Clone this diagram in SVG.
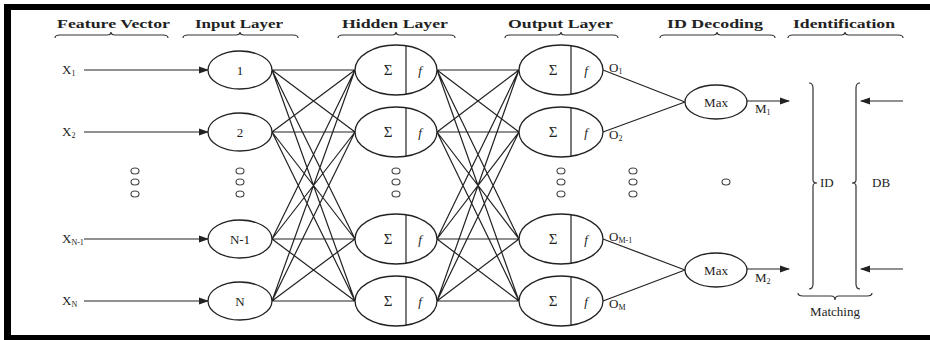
<svg xmlns="http://www.w3.org/2000/svg" width="930" height="340" viewBox="0 0 930 340">
<defs>
<marker id="ah" markerWidth="10" markerHeight="8" refX="9" refY="4" orient="auto" markerUnits="userSpaceOnUse">
<path d="M0,0.5 L10,4 L0,7.5 Z" fill="#222"/>
</marker>
<style>
text{font-family:"Liberation Serif","Times New Roman",serif;fill:#222}
.hd{font-size:13px;font-weight:bold}
.lb{font-size:13px}
.sg{font-size:15px}
.sb{font-size:8px}
.nd{fill:#fff;stroke:#222;stroke-width:1.3}
.ln{stroke:#222;stroke-width:1.2;fill:none}
.br{stroke:#333;stroke-width:1.2;fill:none}
.dot{fill:none;stroke:#444;stroke-width:1.1}
</style>
</defs>
<rect x="0" y="0" width="930" height="340" fill="#fff"/>
<!-- frame -->
<rect x="4" y="4" width="926" height="6" fill="#000"/>
<rect x="4" y="4" width="7" height="336" fill="#000"/>
<rect x="4" y="335" width="926" height="5" fill="#000"/>

<!-- headers -->
<g id="headers">
<text class="hd" x="57" y="28" textLength="113" lengthAdjust="spacingAndGlyphs">Feature Vector</text>
<text class="hd" x="195" y="28" textLength="88" lengthAdjust="spacingAndGlyphs">Input Layer</text>
<text class="hd" x="342" y="28" textLength="106" lengthAdjust="spacingAndGlyphs">Hidden Layer</text>
<text class="hd" x="508" y="28" textLength="105" lengthAdjust="spacingAndGlyphs">Output Layer</text>
<text class="hd" x="667" y="28" textLength="96" lengthAdjust="spacingAndGlyphs">ID Decoding</text>
<text class="hd" x="793" y="28" textLength="102" lengthAdjust="spacingAndGlyphs">Identification</text>
<path class="br" d="M55,38 Q55,35 60,35 L107,35 Q111,35 111,32 Q111,35 115,35 L163,35 Q168,35 168,38"/>
<path class="br" d="M183,38 Q183,35 188,35 L236,35 Q240,35 240,32 Q240,35 244,35 L293,35 Q298,35 298,38"/>
<path class="br" d="M338,38 Q338,35 343,35 L392,35 Q396,35 396,32 Q396,35 400,35 L450,35 Q455,35 455,38"/>
<path class="br" d="M505,38 Q505,35 510,35 L557,35 Q561,35 561,32 Q561,35 565,35 L613,35 Q618,35 618,38"/>
<path class="br" d="M660,38 Q660,35 665,35 L713,35 Q717,35 717,32 Q717,35 721,35 L770,35 Q775,35 775,38"/>
<path class="br" d="M788,38 Q788,35 793,35 L841,35 Q845,35 845,32 Q845,35 849,35 L898,35 Q903,35 903,38"/>
</g>

<!-- feature vector labels -->
<g id="features">
<text class="lb" x="62" y="74">X<tspan class="sb" dy="2">1</tspan></text>
<text class="lb" x="62" y="136">X<tspan class="sb" dy="2">2</tspan></text>
<text class="lb" x="62" y="243">X<tspan class="sb" dy="2">N-1</tspan></text>
<text class="lb" x="62" y="305">X<tspan class="sb" dy="2">N</tspan></text>
</g>

<!-- ellipsis dots -->
<g id="ellipses">
<ellipse class="dot" cx="135" cy="171" rx="4" ry="3"/><ellipse class="dot" cx="135" cy="182" rx="4" ry="3"/><ellipse class="dot" cx="135" cy="194" rx="4" ry="3"/>
<ellipse class="dot" cx="240" cy="171" rx="4" ry="3"/><ellipse class="dot" cx="240" cy="182" rx="4" ry="3"/><ellipse class="dot" cx="240" cy="194" rx="4" ry="3"/>
<ellipse class="dot" cx="396" cy="171" rx="4" ry="3"/><ellipse class="dot" cx="396" cy="182" rx="4" ry="3"/><ellipse class="dot" cx="396" cy="194" rx="4" ry="3"/>
<ellipse class="dot" cx="561" cy="171" rx="4" ry="3"/><ellipse class="dot" cx="561" cy="182" rx="4" ry="3"/><ellipse class="dot" cx="561" cy="194" rx="4" ry="3"/>
<ellipse class="dot" cx="633" cy="171" rx="4" ry="3"/><ellipse class="dot" cx="633" cy="182" rx="4" ry="3"/><ellipse class="dot" cx="633" cy="194" rx="4" ry="3"/>
<ellipse class="dot" cx="726" cy="182" rx="4" ry="3"/>
</g>

<!-- connectors -->
<g id="connectors" class="ln">
<line x1="84" y1="70" x2="208" y2="70" marker-end="url(#ah)"/>
<line x1="84" y1="132" x2="208" y2="132" marker-end="url(#ah)"/>
<line x1="84" y1="239" x2="208" y2="239" marker-end="url(#ah)"/>
<line x1="84" y1="301" x2="208" y2="301" marker-end="url(#ah)"/>
<!-- input to hidden -->
<path d="M272,70 L355,70 M272,70 L355,132 M272,70 L355,239 M272,70 L355,301
M272,132 L355,70 M272,132 L355,132 M272,132 L355,239 M272,132 L355,301
M272,239 L355,70 M272,239 L355,132 M272,239 L355,239 M272,239 L355,301
M272,301 L355,70 M272,301 L355,132 M272,301 L355,239 M272,301 L355,301"/>
<!-- hidden to output -->
<path d="M437,70 L519,70 M437,70 L519,132 M437,70 L519,239 M437,70 L519,301
M437,132 L519,70 M437,132 L519,132 M437,132 L519,239 M437,132 L519,301
M437,239 L519,70 M437,239 L519,132 M437,239 L519,239 M437,239 L519,301
M437,301 L519,70 M437,301 L519,132 M437,301 L519,239 M437,301 L519,301"/>
<!-- output to max -->
<path d="M603,70 L685,102 M603,132 L685,102 M603,239 L685,270 M603,301 L685,270"/>
<line x1="747" y1="101" x2="789" y2="101" marker-end="url(#ah)"/>
<line x1="747" y1="269" x2="789" y2="269" marker-end="url(#ah)"/>
<line x1="903" y1="101" x2="861" y2="101" marker-end="url(#ah)"/>
<line x1="903" y1="269" x2="861" y2="269" marker-end="url(#ah)"/>
</g>

<!-- input nodes -->
<g id="in1"><ellipse class="nd" cx="240" cy="70" rx="32" ry="19"/><text class="lb" x="240" y="74.5" text-anchor="middle">1</text></g>
<g id="in2"><ellipse class="nd" cx="240" cy="132" rx="32" ry="19"/><text class="lb" x="240" y="136.5" text-anchor="middle">2</text></g>
<g id="in3"><ellipse class="nd" cx="240" cy="239" rx="32" ry="19"/><text class="lb" x="240" y="243.5" text-anchor="middle">N-1</text></g>
<g id="in4"><ellipse class="nd" cx="240" cy="301" rx="32" ry="19"/><text class="lb" x="240" y="305.5" text-anchor="middle">N</text></g>

<!-- hidden nodes -->
<g id="h1"><ellipse class="nd" cx="396" cy="70" rx="41" ry="25"/><line class="ln" x1="406" y1="45.8" x2="406" y2="94.2"/><text class="sg" x="388" y="75" text-anchor="middle">Σ</text><text class="lb" x="420" y="75" text-anchor="middle" font-style="italic">f</text></g>
<g id="h2"><ellipse class="nd" cx="396" cy="132" rx="41" ry="25"/><line class="ln" x1="406" y1="107.8" x2="406" y2="156.2"/><text class="sg" x="388" y="137" text-anchor="middle">Σ</text><text class="lb" x="420" y="137" text-anchor="middle" font-style="italic">f</text></g>
<g id="h3"><ellipse class="nd" cx="396" cy="239" rx="41" ry="25"/><line class="ln" x1="406" y1="214.8" x2="406" y2="263.2"/><text class="sg" x="388" y="244" text-anchor="middle">Σ</text><text class="lb" x="420" y="244" text-anchor="middle" font-style="italic">f</text></g>
<g id="h4"><ellipse class="nd" cx="396" cy="301" rx="41" ry="25"/><line class="ln" x1="406" y1="276.8" x2="406" y2="325.2"/><text class="sg" x="388" y="306" text-anchor="middle">Σ</text><text class="lb" x="420" y="306" text-anchor="middle" font-style="italic">f</text></g>

<!-- output nodes -->
<g id="o1"><ellipse class="nd" cx="561" cy="70" rx="42" ry="25"/><line class="ln" x1="571" y1="45.8" x2="571" y2="94.2"/><text class="sg" x="553" y="75" text-anchor="middle">Σ</text><text class="lb" x="586" y="75" text-anchor="middle" font-style="italic">f</text><text class="lb" x="609" y="72">O<tspan class="sb" dy="2">1</tspan></text></g>
<g id="o2"><ellipse class="nd" cx="561" cy="132" rx="42" ry="25"/><line class="ln" x1="571" y1="107.8" x2="571" y2="156.2"/><text class="sg" x="553" y="137" text-anchor="middle">Σ</text><text class="lb" x="586" y="137" text-anchor="middle" font-style="italic">f</text><text class="lb" x="609" y="139">O<tspan class="sb" dy="2">2</tspan></text></g>
<g id="o3"><ellipse class="nd" cx="561" cy="239" rx="42" ry="25"/><line class="ln" x1="571" y1="214.8" x2="571" y2="263.2"/><text class="sg" x="553" y="244" text-anchor="middle">Σ</text><text class="lb" x="586" y="244" text-anchor="middle" font-style="italic">f</text><text class="lb" x="609" y="241">O<tspan class="sb" dy="2">M-1</tspan></text></g>
<g id="o4"><ellipse class="nd" cx="561" cy="301" rx="42" ry="25"/><line class="ln" x1="571" y1="276.8" x2="571" y2="325.2"/><text class="sg" x="553" y="306" text-anchor="middle">Σ</text><text class="lb" x="586" y="306" text-anchor="middle" font-style="italic">f</text><text class="lb" x="609" y="308">O<tspan class="sb" dy="2">M</tspan></text></g>

<!-- max nodes -->
<g id="max1"><ellipse class="nd" cx="716" cy="102" rx="31" ry="17"/><text class="lb" x="716" y="106.5" text-anchor="middle">Max</text><text class="lb" x="755" y="113">M<tspan class="sb" dy="2">1</tspan></text></g>
<g id="max2"><ellipse class="nd" cx="716" cy="270" rx="31" ry="17"/><text class="lb" x="716" y="274.5" text-anchor="middle">Max</text><text class="lb" x="755" y="282">M<tspan class="sb" dy="2">2</tspan></text></g>

<!-- identification brackets -->
<g id="id-bracket">
<path class="br" d="M809,83 Q813,83 813,88 L813,180 Q813,183 817,183 Q813,183 813,186 L813,284 Q813,289 809,289"/>
<text class="lb" x="820" y="187">ID</text>
</g>
<g id="db-bracket">
<path class="br" d="M860,83 Q856,83 856,88 L856,180 Q856,183 852,183 Q856,183 856,186 L856,284 Q856,289 860,289"/>
<text class="lb" x="872" y="187">DB</text>
</g>
<g id="matching">
<path class="br" d="M798,293 Q798,296 803,296 L831,296 Q835,296 835,300 Q835,296 839,296 L867,296 Q872,296 872,293"/>
<text class="lb" x="835" y="316" text-anchor="middle">Matching</text>
</g>
</svg>
